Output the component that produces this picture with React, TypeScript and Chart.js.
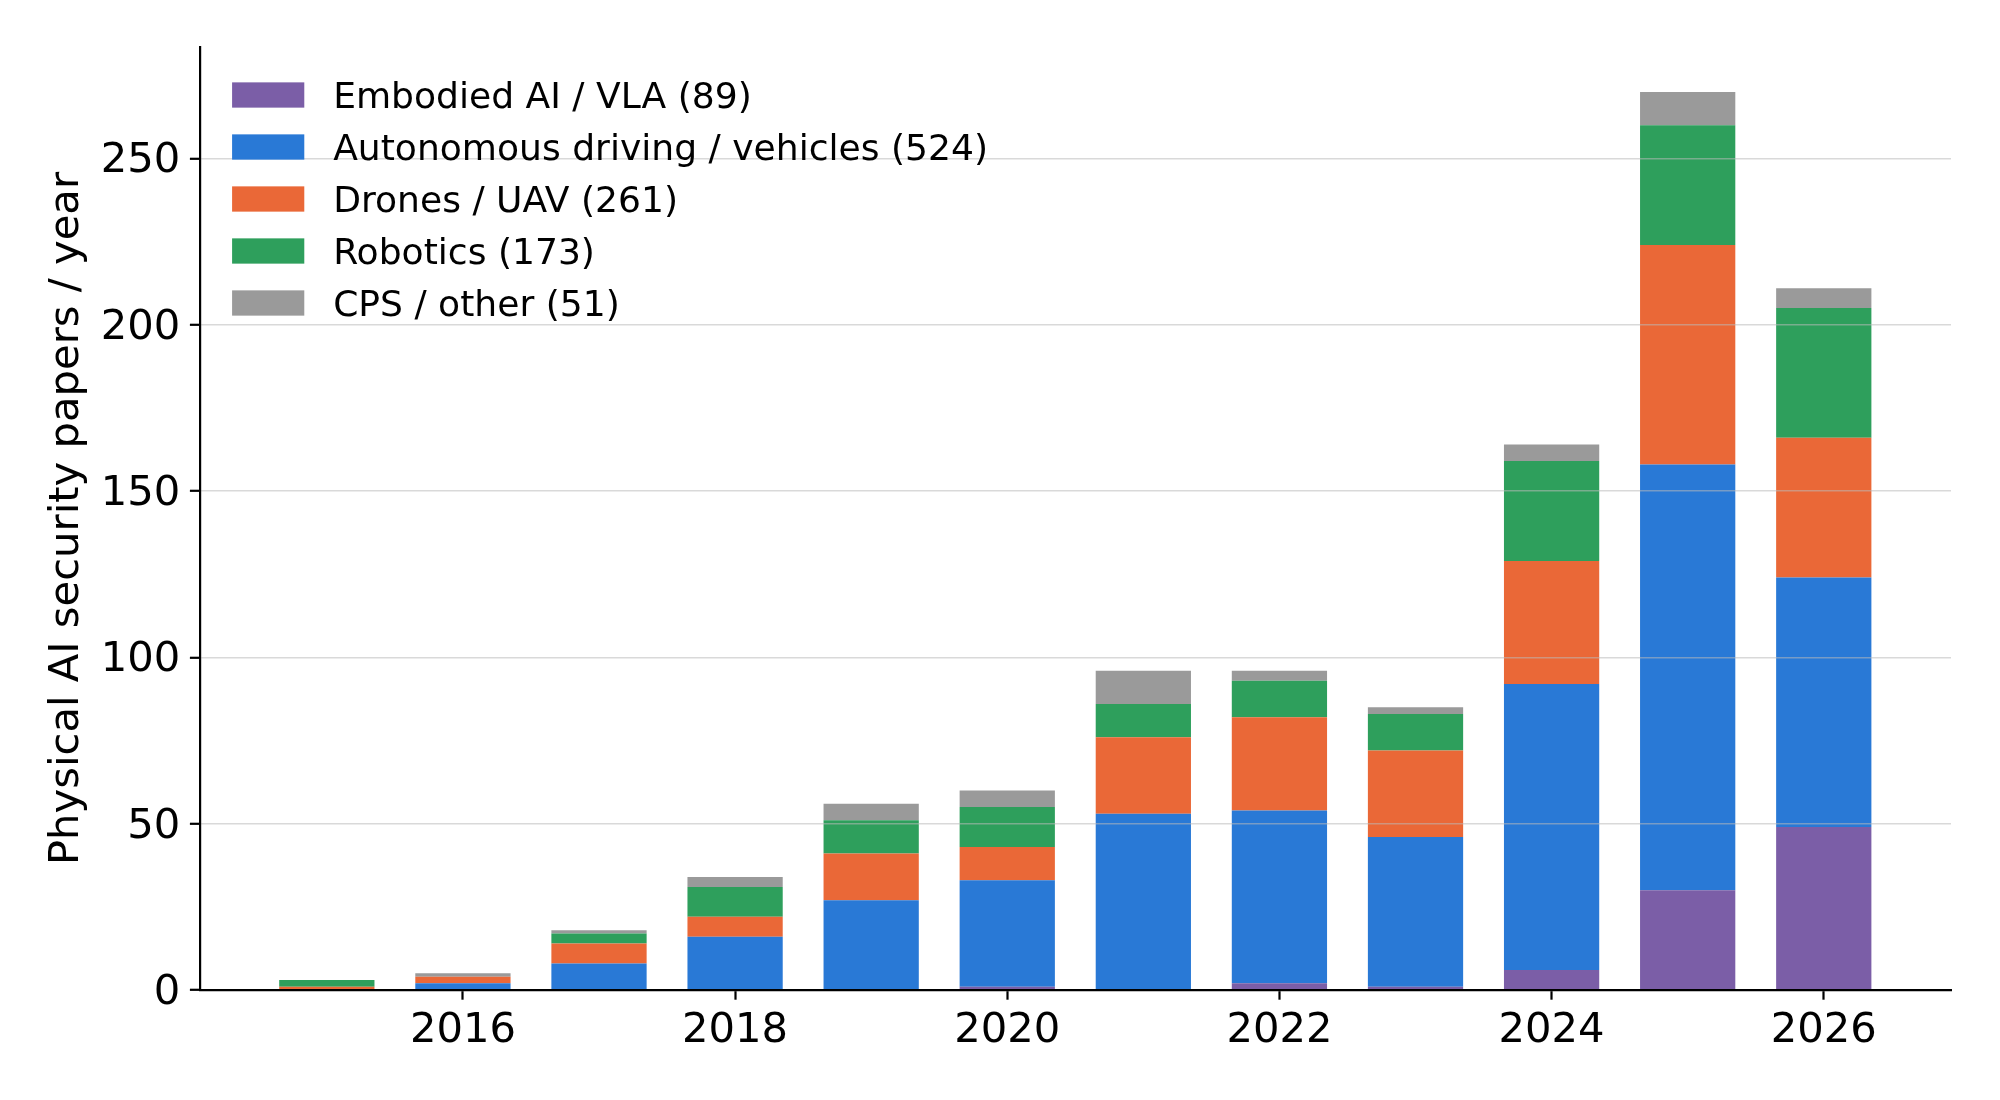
import React, { useEffect, useRef } from 'react';
import { Chart, registerables } from 'chart.js';

Chart.register(...registerables);

// ---------- data ----------
const years = [2015, 2016, 2017, 2018, 2019, 2020, 2021, 2022, 2023, 2024, 2025, 2026];
const seriesNames = [
  'Embodied AI / VLA',
  'Autonomous driving / vehicles',
  'Drones / UAV',
  'Robotics',
  'CPS / other',
];
const embodied = [0, 0, 0, 0, 0, 1, 0, 2, 1, 6, 30, 49];
const autonomous = [0, 2, 8, 16, 27, 32, 53, 52, 45, 86, 128, 75];
const drones = [1, 2, 6, 6, 14, 10, 23, 28, 26, 37, 66, 42];
const robotics = [2, 0, 3, 9, 10, 12, 10, 11, 11, 30, 36, 39];
const cps = [0, 1, 1, 3, 5, 5, 10, 3, 2, 5, 10, 6];
const seriesValues = [embodied, autonomous, drones, robotics, cps];
const seriesColors = ['#7B5EA7', '#2979D6', '#EA6837', '#2E9F5C', '#9A9A9A'];
const xTickYears = [2016, 2018, 2020, 2022, 2024, 2026];
const yTickValues = [0, 50, 100, 150, 200, 250];
const yAxisTitle = 'Physical AI security papers / year';

// ---------- derived layout (matplotlib-like) ----------
const BAR_FRAC = 0.7;
const sum = (a: number[]) => a.reduce((s, v) => s + v, 0);
const xLo = years[0] - BAR_FRAC / 2;
const xHi = years[years.length - 1] + BAR_FRAC / 2;
const xMargin = (xHi - xLo) * 0.05;
const xMin = xLo - xMargin;
const xMax = xHi + xMargin;
const totals = years.map((_, i) => sum(seriesValues.map((s) => s[i])));
const yMax = Math.max(...totals) * 1.05;

const TICK_FS = 41.7;
const LEGEND_FS = 36.1;
const LINE_W = 2.2;
const TICK_LEN = 9.7;
const GRID_COLOR = 'rgba(185,185,185,0.55)';

const legendPlugin = {
  id: 'insideLegend',
  afterDraw(chart: any) {
    const { ctx, chartArea } = chart;
    const fs = LEGEND_FS;
    const x0 = chartArea.left + 0.5 * fs + 0.4 * fs;
    const firstCenter = chartArea.top + 48;
    const rowH = 52;
    ctx.save();
    ctx.font = `${fs}px "DejaVu Sans"`;
    ctx.textBaseline = 'alphabetic';
    ctx.textAlign = 'left';
    chart.data.datasets.forEach((ds: any, i: number) => {
      const cy = firstCenter + i * rowH;
      ctx.fillStyle = ds.backgroundColor;
      ctx.fillRect(x0, cy - 0.35 * fs, 2 * fs, 0.7 * fs);
      ctx.fillStyle = '#000';
      ctx.fillText(ds.label, x0 + 2.8 * fs, cy + (0.729 * fs) / 2);
    });
    ctx.restore();
  },
};

export default function App() {
  const ref = useRef<HTMLCanvasElement>(null);

  useEffect(() => {
    if (!ref.current) return;
    Chart.defaults.font.family = '"DejaVu Sans"';
    Chart.defaults.color = '#000';

    const datasets = seriesNames.map((name, k) => ({
      label: `${name} (${sum(seriesValues[k])})`,
      data: years.map((yr, i) => ({ x: yr, y: seriesValues[k][i] })),
      backgroundColor: seriesColors[k],
      borderWidth: 0,
      categoryPercentage: 1,
      barPercentage: BAR_FRAC,
    }));

    const chart = new Chart(ref.current, {
      type: 'bar',
      data: { datasets },
      plugins: [legendPlugin],
      options: {
        animation: false,
        responsive: false,
        devicePixelRatio: 1,
        layout: { padding: { top: 47, right: 49, left: 0, bottom: 0 } },
        plugins: {
          legend: { display: false },
          tooltip: { enabled: false },
        },
        scales: {
          x: {
            type: 'linear',
            stacked: true,
            min: xMin,
            max: xMax,
            bounds: 'data',
            offset: false,
            afterBuildTicks: (axis: any) => {
              axis.ticks = xTickYears.map((v) => ({ value: v }));
            },
            afterFit: (s: any) => {
              s.height = 110;
            },
            grid: {
              display: true,
              drawOnChartArea: false,
              drawTicks: true,
              offset: false,
              tickLength: TICK_LEN,
              tickWidth: LINE_W,
              tickColor: '#000',
              z: 2,
            },
            border: { display: true, color: '#000', width: LINE_W, z: 2 },
            ticks: {
              autoSkip: false,
              maxRotation: 0,
              padding: 6,
              color: '#000',
              font: { size: TICK_FS },
              callback: (v: any) => String(v),
            },
          },
          y: {
            type: 'linear',
            stacked: true,
            min: 0,
            max: yMax,
            bounds: 'data',
            afterBuildTicks: (axis: any) => {
              axis.ticks = yTickValues.map((v) => ({ value: v }));
            },
            afterFit: (s: any) => {
              s.width = 199.6;
            },
            grid: {
              display: true,
              drawOnChartArea: true,
              drawTicks: true,
              color: (ctx: any) => (ctx.tick && ctx.tick.value === 0 ? 'rgba(0,0,0,0)' : GRID_COLOR),
              lineWidth: 1.6,
              tickLength: TICK_LEN,
              tickWidth: LINE_W,
              tickColor: '#000',
              z: 1,
            },
            border: { display: true, color: '#000', width: LINE_W, z: 2 },
            ticks: {
              padding: TICK_LEN,
              labelOffset: 3,
              color: '#000',
              font: { size: TICK_FS },
              callback: (v: any) => String(v),
            },
            title: {
              display: true,
              text: yAxisTitle,
              color: '#000',
              font: { size: TICK_FS },
              padding: { top: 42.6, bottom: 0 },
            },
          },
        },
      },
    } as any);

    return () => chart.destroy();
  }, []);

  return (
    <div style={{ position: 'absolute', left: 0, top: 0, width: 2000, height: 1100, background: '#fff' }}>
      <canvas ref={ref} width={2000} height={1100} style={{ display: 'block', width: 2000, height: 1100 }} />
    </div>
  );
}
